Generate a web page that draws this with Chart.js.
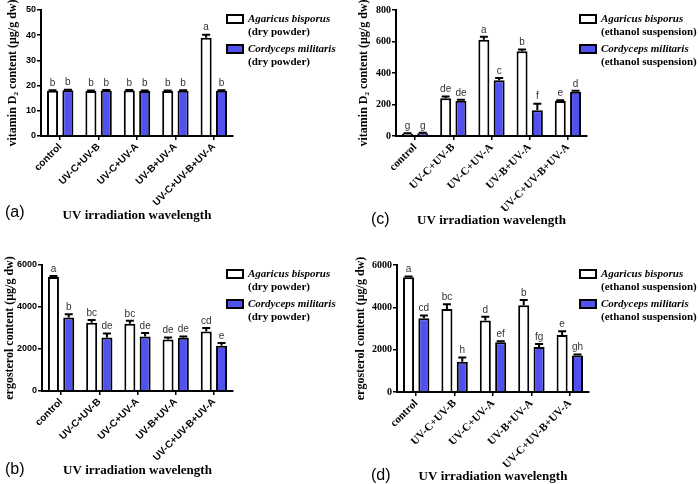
<!DOCTYPE html>
<html>
<head>
<meta charset="utf-8">
<script src="https://cdn.jsdelivr.net/npm/chart.js@4"></script>
<style>
  body { margin: 0; background: #fff; }
  .panel { position: absolute; }
</style>
</head>
<body>
<div class="panel" style="left:0;top:0"><canvas id="chart-a" width="349" height="240"></canvas></div>
<div class="panel" style="left:349px;top:0"><canvas id="chart-c" width="349" height="240"></canvas></div>
<div class="panel" style="left:0;top:240px"><canvas id="chart-b" width="349" height="244"></canvas></div>
<div class="panel" style="left:349px;top:240px"><canvas id="chart-d" width="349" height="244"></canvas></div>
<script>
const categories = ["control", "UV-C+UV-B", "UV-C+UV-A", "UV-B+UV-A", "UV-C+UV-B+UV-A"];
const speciesA = "Agaricus bisporus";
const speciesC = "Cordyceps militaris";

// (a) vitamin D2, dry powder
const vitDryAgaricus = [18.0, 17.9, 18.1, 17.9, 39.0];
const vitDryAgaricusErr = [0.2, 0.2, 0.2, 0.2, 1.2];
const vitDryAgaricusLetters = ["b", "b", "b", "b", "a"];
const vitDryCordyceps = [18.2, 18.1, 17.9, 18.0, 18.0];
const vitDryCordycepsErr = [0.2, 0.2, 0.2, 0.2, 0.2];
const vitDryCordycepsLetters = ["b", "b", "b", "b", "b"];

// (c) vitamin D2, ethanol suspension
const vitEthAgaricus = [15, 239, 611, 538, 222];
const vitEthAgaricusErr = [3, 12, 19, 12, 5];
const vitEthAgaricusLetters = ["g", "de", "a", "b", "e"];
const vitEthCordyceps = [17, 224, 354, 163, 281];
const vitEthCordycepsErr = [3, 6, 15, 42, 6];
const vitEthCordycepsLetters = ["g", "de", "c", "f", "d"];

// (b) ergosterol, dry powder
const ergDryAgaricus = [5430, 3250, 3200, 2450, 2830];
const ergDryAgaricusErr = [50, 130, 140, 100, 175];
const ergDryAgaricusLetters = ["a", "bc", "bc", "de", "cd"];
const ergDryCordyceps = [3500, 2550, 2590, 2530, 2150];
const ergDryCordycepsErr = [150, 190, 175, 60, 140];
const ergDryCordycepsLetters = ["b", "de", "de", "de", "e"];

// (d) ergosterol, ethanol suspension
const ergEthAgaricus = [5420, 3920, 3380, 4100, 2690];
const ergEthAgaricusErr = [40, 220, 175, 250, 175];
const ergEthAgaricusLetters = ["a", "bc", "d", "b", "e"];
const ergEthCordyceps = [3490, 1430, 2350, 2130, 1730];
const ergEthCordycepsErr = [120, 200, 50, 140, 40];
const ergEthCordycepsLetters = ["cd", "h", "ef", "fg", "gh"];

const blueFill = "#5151f0";
const serif = "'Liberation Serif', 'Times New Roman', serif";
const sans = "'Liberation Sans', Arial, sans-serif";

// error bars (upper only) + significance letters
const errorBars = {
  id: "errorBars",
  afterDatasetsDraw(chart) {
    const ctx = chart.ctx;
    const yScale = chart.scales.y;
    chart.data.datasets.forEach((ds, i) => {
      const meta = chart.getDatasetMeta(i);
      meta.data.forEach((bar, j) => {
        const top = yScale.getPixelForValue(ds.data[j] + ds.errors[j]);
        ctx.save();
        ctx.strokeStyle = "#000";
        ctx.lineWidth = 2;
        ctx.beginPath();
        ctx.moveTo(bar.x, bar.y);
        ctx.lineTo(bar.x, top);
        ctx.moveTo(bar.x - 4, top);
        ctx.lineTo(bar.x + 4, top);
        ctx.stroke();
        ctx.fillStyle = "#333";
        ctx.font = "10px " + sans;
        ctx.textAlign = "center";
        ctx.textBaseline = "bottom";
        ctx.fillText(ds.letters[j], bar.x, top - 2);
        ctx.restore();
      });
    });
  },
};

// legend with italic species name + panel letter
const panelDecor = {
  id: "panelDecor",
  afterDraw(chart, args, opts) {
    const ctx = chart.ctx;
    const top = chart.chartArea.top;
    ctx.save();
    chart.data.datasets.forEach((ds, i) => {
      const cy = top + 9 + i * 30;
      ctx.fillStyle = ds.backgroundColor;
      ctx.fillRect(opts.legendX, cy - 4, 16, 8);
      ctx.strokeStyle = "#000";
      ctx.lineWidth = 2;
      ctx.strokeRect(opts.legendX, cy - 4, 16, 8);
      ctx.fillStyle = "#000";
      ctx.textAlign = "left";
      ctx.textBaseline = "middle";
      ctx.font = "italic bold 11px " + serif;
      ctx.fillText(ds.label, opts.legendX + 21, cy);
      ctx.font = "bold 11px " + serif;
      ctx.fillText(opts.sample, opts.legendX + 21, cy + 13.5);
    });
    ctx.font = "16px " + sans;
    ctx.textAlign = "left";
    ctx.textBaseline = "middle";
    ctx.fillText(opts.letter, opts.letterX, opts.letterY);
    ctx.restore();
  },
};

function makeChart(id, p) {
  const xFont = p.serifTicks
    ? { family: serif, size: 11, weight: "bold" }
    : { family: sans, size: 10, weight: "bold" };
  const yFont = p.serifTicks
    ? { family: serif, size: 10, weight: "bold" }
    : { family: sans, size: 9, weight: "bold" };
  new Chart(document.getElementById(id), {
    type: "bar",
    plugins: [errorBars, panelDecor],
    data: {
      labels: categories,
      datasets: [
        {
          label: speciesA,
          data: p.agaricus,
          errors: p.agaricusErr,
          letters: p.agaricusLetters,
          backgroundColor: "#ffffff",
          borderColor: "#000",
          borderWidth: 2,
          categoryPercentage: 0.8,
          barPercentage: 0.72,
        },
        {
          label: speciesC,
          data: p.cordyceps,
          errors: p.cordycepsErr,
          letters: p.cordycepsLetters,
          backgroundColor: blueFill,
          borderColor: "#000",
          borderWidth: 2,
          categoryPercentage: 0.8,
          barPercentage: 0.72,
        },
      ],
    },
    options: {
      responsive: false,
      animation: false,
      layout: {
        padding: { left: p.padLeft, right: p.padRight, top: p.padTop, bottom: p.padBottom },
      },
      plugins: {
        legend: { display: false },
        tooltip: { enabled: false },
        panelDecor: { legendX: p.legendX, sample: p.sample, letter: p.letter, letterX: p.letterX, letterY: p.letterY },
      },
      scales: {
        x: {
          afterFit(scale) { scale.height = p.xHeight; },
          border: { color: "#000", width: 2 },
          grid: { drawOnChartArea: false, offset: false, color: "#000", lineWidth: 1.5, tickLength: 4 },
          ticks: { color: "#000", font: xFont, minRotation: 45, maxRotation: 45, autoSkip: false, padding: 1 },
          title: {
            display: true,
            text: "UV irradiation wavelength",
            color: "#000",
            font: { family: serif, size: 13, weight: "bold" },
            padding: 0,
          },
        },
        y: {
          min: 0,
          max: p.yMax,
          afterFit(scale) { scale.width = p.yWidth; },
          border: { color: "#000", width: 2 },
          grid: { drawOnChartArea: false, color: "#000", lineWidth: 1.5, tickLength: 4 },
          ticks: {
            stepSize: p.yStep,
            color: "#000",
            font: yFont,
            padding: 1,
            callback: (value) => String(value),
          },
          title: {
            display: true,
            text: p.yTitle,
            color: "#000",
            font: { family: serif, size: 12, weight: "bold" },
            padding: 0,
          },
        },
      },
    },
  });
}

makeChart("chart-a", {
  agaricus: vitDryAgaricus, agaricusErr: vitDryAgaricusErr, agaricusLetters: vitDryAgaricusLetters,
  cordyceps: vitDryCordyceps, cordycepsErr: vitDryCordycepsErr, cordycepsLetters: vitDryCordycepsLetters,
  yMax: 50, yStep: 10, yTitle: "vitamin D\u2082 content (\u03bcg/g dw)", sample: "(dry powder)",
  serifTicks: false, padLeft: 6, padRight: 116, padTop: 10, padBottom: 17, yWidth: 35, xHeight: 87,
  legendX: 227, letter: "(a)", letterX: 5, letterY: 213,
});
makeChart("chart-c", {
  agaricus: vitEthAgaricus, agaricusErr: vitEthAgaricusErr, agaricusLetters: vitEthAgaricusLetters,
  cordyceps: vitEthCordyceps, cordycepsErr: vitEthCordycepsErr, cordycepsLetters: vitEthCordycepsLetters,
  yMax: 800, yStep: 200, yTitle: "vitamin D\u2082 content (\u03bcg/g dw)", sample: "(ethanol suspension)",
  serifTicks: true, padLeft: 8, padRight: 111, padTop: 10, padBottom: 12, yWidth: 39, xHeight: 92,
  legendX: 231, letter: "(c)", letterX: 22, letterY: 220,
});
makeChart("chart-b", {
  agaricus: ergDryAgaricus, agaricusErr: ergDryAgaricusErr, agaricusLetters: ergDryAgaricusLetters,
  cordyceps: ergDryCordyceps, cordycepsErr: ergDryCordycepsErr, cordycepsLetters: ergDryCordycepsLetters,
  yMax: 6000, yStep: 2000, yTitle: "ergosterol content (\u03bcg/g dw)", sample: "(dry powder)",
  serifTicks: false, padLeft: 3, padRight: 116, padTop: 25, padBottom: 6, yWidth: 39, xHeight: 87,
  legendX: 227, letter: "(b)", letterX: 5, letterY: 230,
});
makeChart("chart-d", {
  agaricus: ergEthAgaricus, agaricusErr: ergEthAgaricusErr, agaricusLetters: ergEthAgaricusLetters,
  cordyceps: ergEthCordyceps, cordycepsErr: ergEthCordycepsErr, cordycepsLetters: ergEthCordycepsLetters,
  yMax: 6000, yStep: 2000, yTitle: "ergosterol content (\u03bcg/g dw)", sample: "(ethanol suspension)",
  serifTicks: true, padLeft: 5, padRight: 109, padTop: 25, padBottom: 0, yWidth: 43, xHeight: 92,
  legendX: 231, letter: "(d)", letterX: 22, letterY: 236,
});
</script>
</body>
</html>
